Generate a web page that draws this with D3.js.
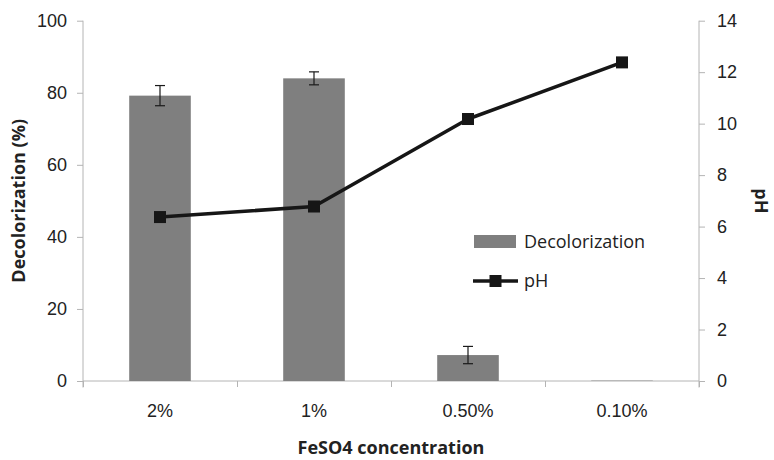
<!DOCTYPE html>
<html>
<head>
<meta charset="utf-8">
<script src="https://cdn.jsdelivr.net/npm/d3@7"></script>
<style>
  html, body { margin: 0; padding: 0; background: #fff; }
  svg { display: block; font-family: "Open Sans", sans-serif; }
  .axis path, .axis line { stroke: #b4b4b4; }
  .axis text { fill: #222; font-size: 18px; }
</style>
</head>
<body>
<svg id="chart" width="774" height="460"></svg>
<script>
// --- data ---
const categories     = ['2%', '1%', '0.50%', '0.10%'];
const decolorization = [79.2, 84.0, 7.2, 0.1];
const decolorErr     = [2.8, 1.8, 2.4, 0];
const phValues       = [6.37, 6.78, 10.18, 12.38];
const leftTicks      = [0, 20, 40, 60, 80, 100];
const rightTicks     = [0, 2, 4, 6, 8, 10, 12, 14];

const svg = d3.select('#chart');

// plot frame
const L = 83, R = 699, T = 20.7, B = 381;

const x = d3.scaleBand().domain(categories).range([L, R]).padding(0);
const barW = x.bandwidth() * 0.4;
const yL = d3.scaleLinear().domain([0, 100]).range([B, T]);
const yR = d3.scaleLinear().domain([0, 14]).range([B, T]);

// ---- Axes ----
svg.append('g')
  .attr('class', 'axis')
  .attr('transform', `translate(${L},0)`)
  .call(d3.axisLeft(yL).tickValues(leftTicks).tickSize(6).tickPadding(10).tickSizeOuter(0))
  .call(g => g.select('.domain').attr('d', `M0,${T}V${B + 6.5}`));

svg.append('g')
  .attr('class', 'axis')
  .attr('transform', `translate(${R},0)`)
  .call(d3.axisRight(yR).tickValues(rightTicks).tickSize(6).tickPadding(12).tickSizeOuter(0))
  .call(g => g.select('.domain').attr('d', `M0,${T}V${B + 6.5}`));

// bottom axis: ticks at category boundaries, labels at centres
const xIdx = d3.scaleLinear().domain([0, categories.length]).range([L, R]);
svg.append('g')
  .attr('class', 'axis')
  .attr('transform', `translate(0,${B})`)
  .call(d3.axisBottom(xIdx).ticks(categories.length).tickFormat('').tickSize(6).tickSizeOuter(0))
  .call(g => g.select('.domain').attr('d', `M${L},0H${R}`));

svg.append('g')
  .attr('class', 'axis')
  .attr('transform', `translate(0,${B})`)
  .call(d3.axisBottom(x).tickSize(0).tickPadding(23))
  .call(g => g.select('.domain').remove());

// ---- Bars ----
svg.append('g').selectAll('rect')
  .data(categories)
  .join('rect')
    .attr('x', d => x(d) + (x.bandwidth() - barW) / 2)
    .attr('y', (d, i) => yL(decolorization[i]))
    .attr('width', barW)
    .attr('height', (d, i) => B - yL(decolorization[i]))
    .attr('fill', '#7f7f7f');

// ---- Error bars ----
const eb = svg.append('g').attr('stroke', '#1a1a1a').attr('stroke-width', 1.2);
categories.forEach((c, i) => {
  if (!decolorErr[i]) return;
  const cx = x(c) + x.bandwidth() / 2;
  const y1 = yL(decolorization[i] + decolorErr[i]);
  const y2 = yL(decolorization[i] - decolorErr[i]);
  eb.append('line').attr('x1', cx).attr('x2', cx).attr('y1', y1).attr('y2', y2);
  eb.append('line').attr('x1', cx - 5).attr('x2', cx + 5).attr('y1', y1).attr('y2', y1);
  eb.append('line').attr('x1', cx - 5).attr('x2', cx + 5).attr('y1', y2).attr('y2', y2);
});

// ---- pH line ----
const line = d3.line()
  .x((d, i) => x(categories[i]) + x.bandwidth() / 2)
  .y(d => yR(d));

svg.append('path')
  .datum(phValues)
  .attr('d', line)
  .attr('fill', 'none')
  .attr('stroke', '#161616')
  .attr('stroke-width', 3.6)
  .attr('stroke-linejoin', 'round');

const mk = 12;
svg.append('g').selectAll('rect')
  .data(phValues)
  .join('rect')
    .attr('x', (d, i) => x(categories[i]) + x.bandwidth() / 2 - mk / 2)
    .attr('y', d => yR(d) - mk / 2)
    .attr('width', mk).attr('height', mk)
    .attr('fill', '#161616');

// ---- Legend ----
const lg = svg.append('g').attr('font-size', 18).attr('fill', '#222');
lg.append('rect').attr('x', 474).attr('y', 235).attr('width', 42).attr('height', 13).attr('fill', '#7f7f7f');
lg.append('text').attr('x', 524).attr('y', 248).text('Decolorization');
lg.append('line').attr('x1', 473).attr('x2', 518).attr('y1', 281).attr('y2', 281)
  .attr('stroke', '#161616').attr('stroke-width', 3.6);
lg.append('rect').attr('x', 495.5 - mk / 2).attr('y', 281 - mk / 2).attr('width', mk).attr('height', mk).attr('fill', '#161616');
lg.append('text').attr('x', 524).attr('y', 287).text('pH');

// ---- Axis titles ----
const midY = (T + B) / 2;
svg.append('text')
  .attr('transform', `translate(25,${midY}) rotate(-90)`)
  .attr('text-anchor', 'middle')
  .attr('font-size', 18).attr('font-weight', 'bold').attr('fill', '#222')
  .text('Decolorization (%)');

svg.append('text')
  .attr('transform', `translate(755,${midY}) rotate(90)`)
  .attr('text-anchor', 'middle')
  .attr('font-size', 18).attr('font-weight', 'bold').attr('fill', '#222')
  .text('pH');

svg.append('text')
  .attr('x', (L + R) / 2).attr('y', 454)
  .attr('text-anchor', 'middle')
  .attr('font-size', 18).attr('font-weight', 'bold').attr('fill', '#222')
  .text('FeSO4 concentration');
</script>
</body>
</html>
